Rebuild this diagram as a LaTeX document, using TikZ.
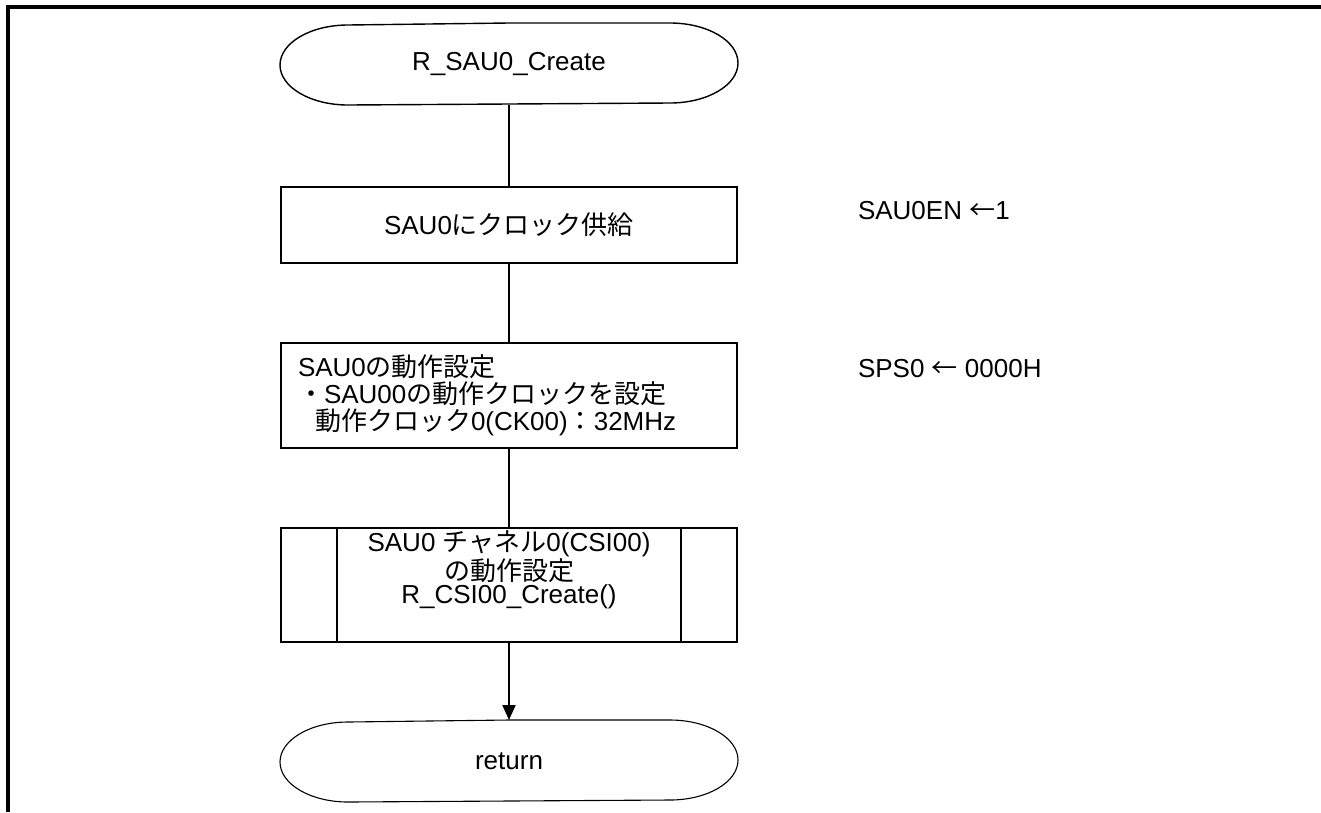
\documentclass[tikz,border=0pt]{standalone}
\usepackage{fontspec}
\setmainfont{Liberation Sans}
\newfontfamily\jp{Noto Sans CJK JP}
\usetikzlibrary{arrows.meta}

\newcommand\termline[2][1.4pt]{\draw[line width=#1, line join=round] (#2.north) -- ([xshift=-68pt]#2.north east)
  arc[start angle=90, end angle=-90, x radius=68pt, y radius=40pt] -- ([xshift=68pt]#2.south west)
  arc[start angle=270, end angle=90, x radius=68pt, y radius=40pt] -- cycle;}

\tikzset{
  term/.style={minimum width=456pt, minimum height=80pt, inner sep=0pt},
  proc/.style={draw, minimum width=456pt, inner sep=0pt, align=center},
  note/.style={inner sep=0pt}
}

\begin{document}
\begin{tikzpicture}[x=1pt, y=-1pt, line width=2pt, font=\fontsize{26}{27}\selectfont,
    >={Triangle[width=13pt,length=15pt]}]
      \useasboundingbox (0,0) rectangle (1321,812);
      \draw[line width=4pt] (8,812) -- (8,7) -- (1321,7);

      \node[term] (start) at (509,64) {R\_SAU0\_Create};
      \node[proc, minimum height=76pt] (clk) at (509,225) {SAU0{\jp にクロック供給}};
      \node[proc, minimum height=105pt, text width=422pt, inner xsep=17pt, align=left] (sps) at (509,395.5)
        {SAU0{\jp の動作設定}\\{\jp ・}SAU00{\jp の動作クロックを設定}\\\hspace*{17pt}{\jp 動作クロック}0(CK00){\jp ：}32MHz};
      \node[proc, minimum height=114pt, font=\fontsize{26}{23.5}\selectfont] (csi) at (509,585)
        {\parbox[c][108pt][t]{340pt}{\centering SAU0 {\jp チャネル}0(CSI00)\\{\jp の動作設定}\\R\_CSI00\_Create()}};
      \node[term] (ret) at (509,761) {return};

      \node[note, anchor=base west] (en)  at (857,219) {SAU0EN {\jp ←}1};
      \node[note, anchor=base west] (spsval) at (857,377) {SPS0 {\jp ←} 0000H};

      \termline{start}
      \termline[1.1pt]{ret}
      \draw ([xshift=57pt]csi.north west) -- ([xshift=57pt]csi.south west)
            ([xshift=-57pt]csi.north east) -- ([xshift=-57pt]csi.south east);

      \draw (start) -- (clk) (clk) -- (sps) (sps) -- (csi);
      \draw[->] (csi) -- (ret);
    \end{tikzpicture}
\end{document}
